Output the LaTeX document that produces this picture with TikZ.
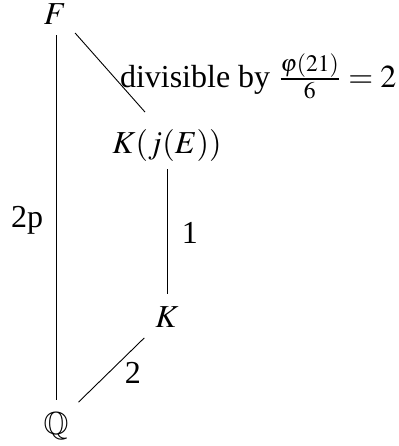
\documentclass[tikz,border=0pt]{standalone}
\usepackage{amssymb}
\usepackage{mathptmx}
\usepackage{fontspec}
\setmainfont{Liberation Serif}
\begin{document}
\begin{tikzpicture}[x=0.5pt,y=-0.5pt,
  every node/.style={inner sep=0pt,outer sep=0pt,font=\fontsize{16}{19}\selectfont},
  conn/.style={line width=0.45pt,black}]
\useasboundingbox (0,0) rectangle (399,446);
\node[anchor=base] (F) at (55,24) {$F$};
\node[anchor=base] (Q) at (56,434) {$\mathbb{Q}$};
\node[anchor=base] (KJ) at (167,153) {$K(j(E))$};
\node[anchor=base] (K) at (167,327) {$K$};
\node[anchor=base west] (ldiv) at (120,87) {divisible by $\frac{\varphi(21)}{6}=2$};
\node[anchor=base east] (l2p) at (43,227) {2p};
\node[anchor=base west] (l1) at (182,243) {1};
\node[anchor=base west] (l2) at (125,383) {2};
\draw[conn,shorten <=5.5pt,shorten >=6pt] (F.south -| Q.north) -- (Q.north);
\draw[conn,shorten <=6pt,shorten >=11.3pt] ([xshift=0.5pt]F.south east) -- ([xshift=-3.5pt]KJ.north);
\draw[conn,shorten <=4pt,shorten >=6pt] (KJ.south) -- (K.north);
\draw[conn,shorten <=7.8pt,shorten >=7pt] (K.south west) -- (Q.north east);
\end{tikzpicture}
\end{document}
